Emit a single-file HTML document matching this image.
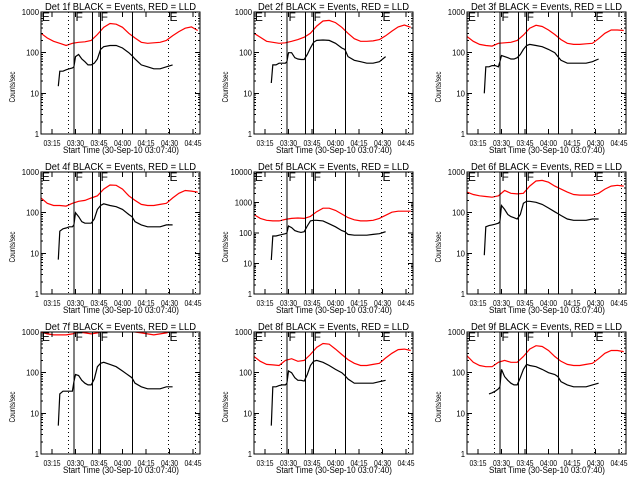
<!DOCTYPE html>
<html><head><meta charset="utf-8"><style>
html,body{margin:0;padding:0;background:#fff;}
svg{display:block;font-family:"Liberation Sans",sans-serif;}
</style></head><body>
<svg id="chart" width="640" height="480" viewBox="0 0 640 480" xmlns="http://www.w3.org/2000/svg"></svg>
<script>
const detNames = ["1f","2f","3f","4f","5f","6f","7f","8f","9f"];
const xTickMinutes = [15,30,45,60,75,90,105];
const xTickLabels = ["03:15","03:30","03:45","04:00","04:15","04:30","04:45"];
const redTimes = [8,12,16,20,24,28,32,36,40,44,48,52,56,60,64,68,72,76,80,84,88,92,96,100,104,108];
const blackTimes = [19,20,22,24,26,28,29,30,32,34,36,38,40,42,44,46,48,52,56,60,64,66,68,72,76,80,84,88,92];
const solidLineTimes = [29.2,40.7,45.8,66.5];
const dottedLineTimes = [25.4,89.5,106.5];
const eventLetterTimes = [8.5,30,46,90];
const eventLetters = ["E","F","F","E"];
const yDecades = [3,3,3,3,4,3,3,3,3];
const red1 = [300,230,190,170,150,170,180,185,200,280,420,520,500,420,300,230,180,170,175,180,200,260,330,400,430,350];
const red2 = [300,240,190,180,170,175,190,210,240,300,450,600,620,550,420,300,220,190,190,195,210,260,340,430,480,420];
const red3 = [250,190,160,150,145,170,175,180,200,270,400,470,440,360,280,210,170,160,160,165,170,220,300,360,360,350];
const red4 = [230,170,150,150,145,170,190,200,230,260,380,480,470,380,260,200,160,150,150,160,170,230,300,350,340,320];
const red5 = [400,300,260,250,250,280,300,310,300,350,500,650,650,550,420,320,270,250,250,260,300,380,480,520,520,520];
const red6 = [320,280,260,250,240,260,350,300,290,300,450,600,620,560,450,380,320,280,270,270,270,300,380,450,470,450];
const red7 = [1000,900,850,850,850,900,1000,950,900,950,1050,1100,1100,1100,1050,1000,950,900,850,900,950,1050,1100,1100,1100,1100];
const red8 = [250,190,160,155,150,200,220,190,200,280,420,520,500,380,280,210,170,150,150,160,170,230,300,370,380,350];
const red9 = [260,180,150,140,140,180,200,180,180,250,380,460,440,350,250,190,160,150,150,160,170,220,300,350,350,330];
const black1 = [15,35,35,38,40,42,45,80,90,70,60,50,50,55,70,120,140,150,150,130,100,85,70,50,45,40,40,45,50];
const black2 = [18,50,50,55,55,55,60,100,100,75,70,68,68,90,130,180,200,205,200,170,130,120,80,65,60,55,55,60,80];
const black3 = [10,45,45,48,48,45,60,85,80,75,70,70,75,90,120,150,160,150,140,120,100,80,65,55,55,55,55,60,70];
const black4 = [7,35,40,42,45,45,50,100,80,60,55,55,55,70,120,150,165,150,140,120,90,80,60,50,45,45,45,50,50];
const black5 = [13,80,80,85,90,95,100,170,150,120,110,105,110,170,250,260,260,250,200,160,120,110,90,85,85,85,90,95,110];
const black6 = [9,45,48,50,52,55,60,150,120,90,80,75,70,90,170,190,190,180,160,130,105,95,85,70,65,65,65,70,70];
const black7 = [5,30,35,35,35,35,60,90,85,65,55,50,50,70,140,170,180,160,140,110,85,75,55,45,40,40,40,45,45];
const black8 = [5,45,45,48,50,50,55,110,100,75,65,65,62,90,150,190,200,180,150,120,100,85,70,55,55,55,55,60,65];
const black9 = [null,null,30,32,35,40,45,120,80,65,55,50,50,75,120,160,150,140,120,100,90,80,60,50,45,45,45,50,55];
const redSeries = [red1,red2,red3,red4,red5,red6,red7,red8,red9];
const blackSeries = [black1,black2,black3,black4,black5,black6,black7,black8,black9];

const NS = "http://www.w3.org/2000/svg";
const svg = document.getElementById("chart");
function mk(tag, attrs, parent){
  const e = document.createElementNS(NS, tag);
  for (const k in attrs) e.setAttribute(k, attrs[k]);
  parent.appendChild(e); return e;
}
const L=41, R=200, T=12, B=134;
function xs(t){ return 52 + (t-15)*141/90; }

for (let p=0; p<9; p++){
  const ox = (p%3)*213, oy = Math.floor(p/3)*160;
  const dec = yDecades[p];
  const ys = v => B - Math.log10(v)*(B-T)/dec;
  const g = mk("g", {transform:`translate(${ox},${oy})`}, svg);
  
  

  const title = mk("text", {x:45, y:10, "font-size":10, textLength:151, lengthAdjust:"spacingAndGlyphs"}, g);
  title.textContent = "Det " + detNames[p] + " BLACK = Events, RED = LLD";
  
  

  const clipId = "clip"+p;
  const cp = mk("clipPath", {id:clipId}, g);
  mk("rect", {x:L, y:T, width:R-L, height:B-T}, cp);

  let d = "";
  redSeries[p].forEach((v,i)=>{ d += (d?"L":"M") + xs(redTimes[i]).toFixed(1) + "," + ys(v).toFixed(1); });
  const rp = mk("path", {d:d, fill:"none", stroke:"#ff0000", "stroke-width":1.2, "clip-path":`url(#${clipId})`}, g);
  
  

  d = "";
  blackSeries[p].forEach((v,i)=>{ if (v==null) return; d += (d?"L":"M") + xs(blackTimes[i]).toFixed(1) + "," + ys(v).toFixed(1); });
  const bp = mk("path", {d:d, fill:"none", stroke:"#000", "stroke-width":1.2, "clip-path":`url(#${clipId})`}, g);
  
  

  solidLineTimes.forEach(t=>{
    const ln = mk("line", {x1:xs(t), x2:xs(t), y1:T, y2:B, stroke:"#000", "stroke-width":1, "shape-rendering":"crispEdges"}, g);
    
    
  });
  dottedLineTimes.forEach(t=>{
    const ln = mk("line", {x1:xs(t), x2:xs(t), y1:T, y2:B, stroke:"#000", "stroke-width":1, "stroke-dasharray":"1,3", "shape-rendering":"crispEdges"}, g);
    
    
  });
  eventLetterTimes.forEach((t,i)=>{
    const tx = mk("text", {x:xs(t), y:T+9, "font-size":12}, g);
    tx.textContent = eventLetters[i];
    
    
  });

  const fr = mk("rect", {x:L, y:T, width:R-L, height:B-T, fill:"none", stroke:"#000", "stroke-width":1, "shape-rendering":"crispEdges"}, g);
  
  

  for (let k=0; k<=dec; k++){
    const y = ys(Math.pow(10,k));
    mk("line", {x1:L, x2:L+5, y1:y, y2:y, stroke:"#000", "shape-rendering":"crispEdges"}, g);
    mk("line", {x1:R-5, x2:R, y1:y, y2:y, stroke:"#000", "shape-rendering":"crispEdges"}, g);
    const s = String(Math.pow(10,k));
    const lab = mk("text", {x:L-2, y:y+3, "font-size":8, "text-anchor":"end", textLength:s.length*4.3, lengthAdjust:"spacingAndGlyphs"}, g);
    lab.textContent = s;
    
    
    if (k<dec) for (let m=2; m<10; m++){
      const ym = ys(m*Math.pow(10,k));
      mk("line", {x1:L, x2:L+2, y1:ym, y2:ym, stroke:"#000", "shape-rendering":"crispEdges"}, g);
      mk("line", {x1:R-2, x2:R, y1:ym, y2:ym, stroke:"#000", "shape-rendering":"crispEdges"}, g);
    }
  }
  xTickMinutes.forEach((t,i)=>{
    const x = xs(t);
    mk("line", {x1:x, x2:x, y1:B, y2:B-5, stroke:"#000", "shape-rendering":"crispEdges"}, g);
    mk("line", {x1:x, x2:x, y1:T, y2:T+5, stroke:"#000", "shape-rendering":"crispEdges"}, g);
    const lab = mk("text", {x:x-8.5, y:B+12, "font-size":8, textLength:17, lengthAdjust:"spacingAndGlyphs"}, g);
    lab.textContent = xTickLabels[i];
    
    
  });
  const xt = mk("text", {x:63, y:B+19, "font-size":9, textLength:116, lengthAdjust:"spacingAndGlyphs"}, g);
  xt.textContent = "Start Time (30-Sep-10 03:07:40)";
  
  
  const yt = mk("text", {x:0, y:0, "font-size":8, "text-anchor":"middle", textLength:31, lengthAdjust:"spacingAndGlyphs", transform:"translate(15,87) rotate(-90)"}, g);
  yt.textContent = "Counts/sec";
  
  
}
</script>
</body></html>
